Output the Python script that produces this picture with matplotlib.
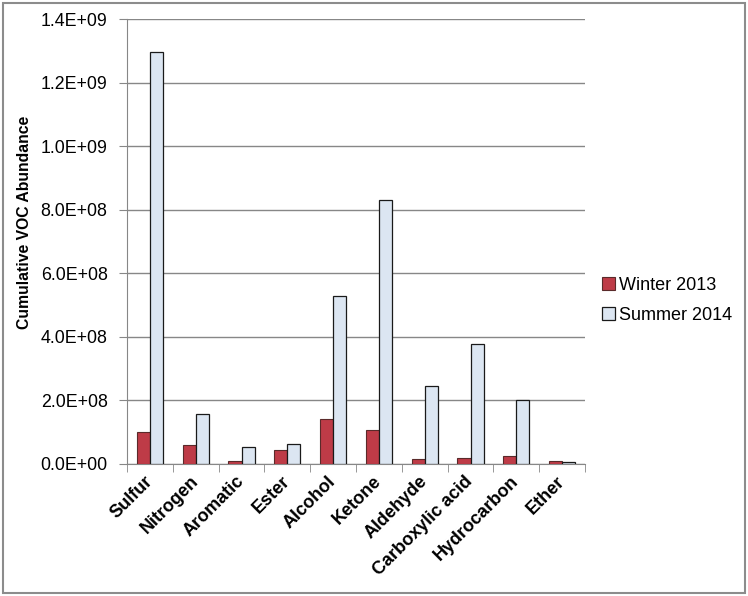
import matplotlib.pyplot as plt
import matplotlib.patches as patches
import matplotlib.ticker as ticker
import matplotlib.transforms as mtransforms
import numpy as np

plt.rcParams['font.family'] = ['Liberation Sans', 'DejaVu Sans']

categories = ["Sulfur", "Nitrogen", "Aromatic", "Ester", "Alcohol", "Ketone",
              "Aldehyde", "Carboxylic acid", "Hydrocarbon", "Ether"]
winter_2013 = [1.01e8, 6.1e7, 1.0e7, 4.5e7, 1.41e8, 1.07e8, 1.7e7, 2.0e7, 2.4e7, 9e6]
summer_2014 = [1.295e9, 1.57e8, 5.2e7, 6.2e7, 5.28e8, 8.29e8, 2.45e8, 3.77e8, 2.0e8, 6e6]

fig = plt.figure(figsize=(7.48, 5.96), dpi=100)
ax = fig.add_axes([127 / 748, 1 - 464 / 596, (585 - 127) / 748, (464 - 19) / 596])

# outer chart border
fig.patches.append(patches.Rectangle((2.5 / 748, 3 / 596), 742 / 748, 590 / 596,
                                     transform=fig.transFigure, fill=False,
                                     edgecolor="#8c8c8c", lw=1.5))

x = np.arange(len(categories))
w = 0.285
ax.bar(x - w / 2, winter_2013, w, color="#BE3B47", edgecolor="#5a2a2a", lw=0.8,
       label="Winter 2013", zorder=3)
ax.bar(x + w / 2, summer_2014, w, color="#DCE6F2", edgecolor="#1a1a1a", lw=0.9,
       label="Summer 2014", zorder=3)

ax.set_xlim(-0.5, len(categories) - 0.5)
ax.set_ylim(0, 1.4e9)
ax.yaxis.set_major_locator(ticker.MultipleLocator(2e8))
ax.yaxis.set_major_formatter(ticker.FuncFormatter(lambda v, p: f"{v:.1E}"))
ax.grid(axis="y", color="#878787", lw=1, zorder=0)

for s in ["top", "right"]:
    ax.spines[s].set_visible(False)
ax.spines["left"].set_color("#878787")
ax.spines["bottom"].set_color("#878787")

ax.tick_params(axis="y", length=6, color="#878787", labelsize=12.8, pad=8)
ax.set_xticks(x)
ax.set_xticklabels(categories, rotation=45, ha="right", rotation_mode="anchor",
                   fontsize=13, fontweight="bold")
ax.tick_params(axis="x", length=0, pad=7)
shift = mtransforms.ScaledTranslation(-6 / 100, 1 / 100, fig.dpi_scale_trans)
for lbl in ax.get_xticklabels():
    lbl.set_transform(lbl.get_transform() + shift)
ax.set_xticks(np.arange(-0.5, len(categories)), minor=True)
ax.tick_params(axis="x", which="minor", length=6, color="#878787")

ax.set_ylabel("Cumulative VOC Abundance", fontsize=11.3, fontweight="bold")
ax.yaxis.set_label_coords(-(127 - 32) / 458, (464 - 222) / 445)

ax.legend(loc="upper left", bbox_to_anchor=(1.022, 0.4375), frameon=False,
          fontsize=13, handlelength=0.7, handleheight=0.7, handletextpad=0.2,
          labelspacing=0.72, borderaxespad=0)

fig.savefig("out.png", dpi=100)
